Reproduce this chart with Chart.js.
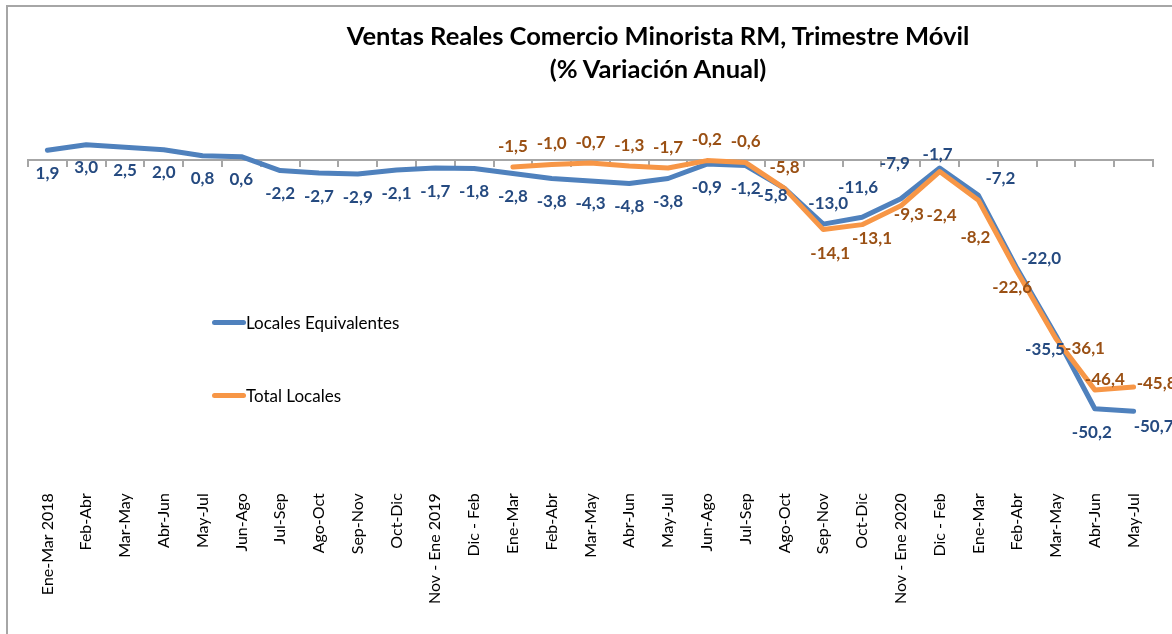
<!DOCTYPE html>
<html lang="es">
<head>
<meta charset="utf-8">
<title>Ventas Reales Comercio Minorista RM</title>
<script src="https://cdn.jsdelivr.net/npm/chart.js@4.4.1/dist/chart.umd.min.js"></script>
<style>
  html, body { margin: 0; padding: 0; background: #fff; }
  #wrap { position: relative; width: 1172px; height: 634px; overflow: hidden; }
  #marco { position: absolute; left: 6px; top: 5px; width: 1220px; height: 700px; border: 2px solid #a6a6a6; box-sizing: border-box; }
  #grafico { position: absolute; left: 0; top: 0; }
  #titulo { position: absolute; left: 658px; top: 19px; transform: translateX(-50%); white-space: nowrap;
            text-align: center; font: bold 25.5px Lato, "Open Sans", sans-serif; line-height: 33px; color: #000; }
  #leyenda { position: absolute; left: 212px; top: 311px; font: 17px Lato, "Open Sans", sans-serif; color: #000; }
  #leyenda .item { display: flex; align-items: center; height: 22px; margin-bottom: 51px; }
  #leyenda .linea { display: inline-block; width: 34px; height: 5px; border-radius: 3px; }
</style>
</head>
<body>
<div id="wrap">
  <div id="marco"></div>
  <canvas id="grafico" width="1172" height="634"></canvas>
  <div id="titulo">Ventas Reales Comercio Minorista RM, Trimestre Móvil<br>(% Variación Anual)</div>
  <div id="leyenda"></div>
</div>
<script>
// periodos (trimestre movil)
var periodos = ['Ene-Mar 2018', 'Feb-Abr', 'Mar-May', 'Abr-Jun', 'May-Jul', 'Jun-Ago', 'Jul-Sep', 'Ago-Oct', 'Sep-Nov', 'Oct-Dic',
    'Nov - Ene 2019', 'Dic - Feb', 'Ene-Mar', 'Feb-Abr', 'Mar-May', 'Abr-Jun', 'May-Jul', 'Jun-Ago', 'Jul-Sep', 'Ago-Oct', 'Sep-Nov', 'Oct-Dic',
    'Nov - Ene 2020', 'Dic - Feb', 'Ene-Mar', 'Feb-Abr', 'Mar-May', 'Abr-Jun', 'May-Jul'];

// Locales Equivalentes
var localesEquiv = [1.9, 3.0, 2.5, 2.0, 0.8, 0.6, -2.2, -2.7, -2.9, -2.1, -1.7, -1.8, -2.8, -3.8, -4.3, -4.8, -3.8, -0.9, -1.2,
    -5.8, -13.0, -11.6, -7.9, -1.7, -7.2, -22.0, -35.5, -50.2, -50.7];

// Total Locales (serie parte en Ene-Mar 2019)
var totalLocales = [null, null, null, null, null, null, null, null, null, null, null, null,
    -1.5, -1.0, -0.7, -1.3, -1.7, -0.2, -0.6, -5.8, -14.1, -13.1, -9.3, -2.4, -8.2, -22.6, -36.1, -46.4, -45.8];

// desplazamiento de etiquetas [dx, dy] respecto del punto (si falta, por defecto)
var despAzul = {19: [-12, 7], 20: [5, -21], 21: [-4, -30], 22: [-6, -35], 23: [-2, -14], 24: [22, -17],
    25: [24, -10], 26: [-11, 14], 27: [-3, 24], 28: [20, 15]};
var despNaranja = {20: [7, 24], 21: [10, 14], 22: [8, 9], 23: [2, 44], 24: [-3, 37], 25: [-5, 16],
    26: [29, 10], 27: [10, -10], 28: [23, -3]};

var fmt = function(v) {
    return v.toFixed(1).replace('.', ',');
};

// etiquetas de datos
var etiquetas = {
    id: 'etiquetas',
    afterDatasetsDraw: function(chart) {
        var ctx = chart.ctx;
        ctx.save();
        ctx.font = 'bold 17px Lato, "Open Sans", sans-serif';
        ctx.textAlign = 'center';
        ctx.textBaseline = 'middle';
        chart.data.datasets.forEach(function(ds, di) {
            var meta = chart.getDatasetMeta(di);
            meta.data.forEach(function(pt, i) {
                var v = ds.data[i];
                if (v === null) return;
                var d = ds.desp[i] || ds.despDefecto;
                ctx.fillStyle = ds.colorEtiqueta;
                ctx.fillText(fmt(v), pt.x + d[0], pt.y + d[1]);
            });
        });
        ctx.restore();
    }
};

var ctx = document.getElementById('grafico').getContext('2d');
var chart = new Chart(ctx, {
    type: 'line',
    data: {
        labels: periodos,
        datasets: [{
            label: 'Locales Equivalentes',
            data: localesEquiv,
            borderColor: '#4f81bd',
            backgroundColor: '#4f81bd',
            colorEtiqueta: '#254a80',
            desp: despAzul,
            despDefecto: [0, 23],
            order: 1
        }, {
            label: 'Total Locales',
            data: totalLocales,
            borderColor: '#f79646',
            backgroundColor: '#f79646',
            colorEtiqueta: '#9a5014',
            desp: despNaranja,
            despDefecto: [0, -21],
            order: 0
        }]
    },
    options: {
        responsive: false,
        animation: false,
        layout: { padding: { left: 28, right: 19, top: 110, bottom: 27 } },
        elements: {
            point: { radius: 0 },
            line: { tension: 0, borderWidth: 5, borderCapStyle: 'round', borderJoinStyle: 'round' }
        },
        plugins: {
            legend: { display: false },
            title: { display: false },
            tooltip: { enabled: false }
        },
        scales: {
            x: {
                type: 'category',
                offset: true,
                grid: { display: false },
                border: { display: false },
                ticks: {
                    autoSkip: false, maxRotation: 90, minRotation: 90, padding: 3,
                    color: '#000', font: { family: 'Lato', size: 16 }
                }
            },
            x0: {
                type: 'category',
                position: { y: 0 },
                offset: true,
                grid: { display: true, offset: true, drawOnChartArea: false, drawTicks: true, tickLength: 6, color: '#a6a6a6', lineWidth: 2 },
                border: { display: true, color: '#a6a6a6', width: 2 },
                ticks: { display: false }
            },
            y: { display: false, min: -65, max: 10 }
        }
    },
    plugins: [etiquetas]
});

// leyenda
var ley = document.getElementById('leyenda');
chart.data.datasets.forEach(function(ds) {
    var item = document.createElement('div');
    item.className = 'item';
    var l = document.createElement('span');
    l.className = 'linea';
    l.style.background = ds.borderColor;
    var t = document.createElement('span');
    t.textContent = ds.label;
    item.appendChild(l);
    item.appendChild(t);
    ley.appendChild(item);
});
</script>
</body>
</html>
